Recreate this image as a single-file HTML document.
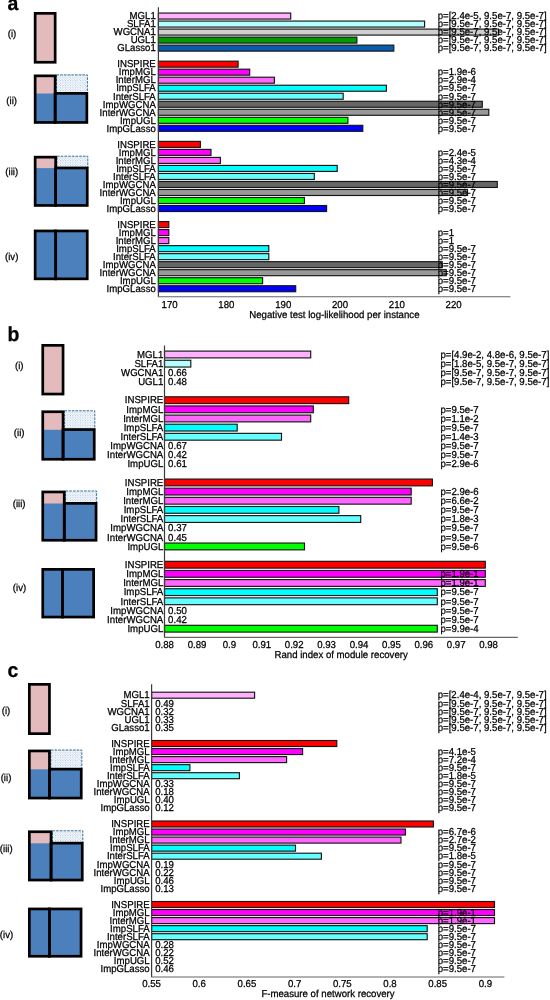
<!DOCTYPE html>
<html><head><meta charset="utf-8"><title>Figure</title>
<style>
html,body{margin:0;padding:0;background:#fff;}
body{width:550px;height:1000px;overflow:hidden;}
svg{display:block;will-change:transform;font-family:"Liberation Sans", sans-serif;fill:#000;}
svg text{font-size:9.9px;fill:#000;stroke:#000;stroke-width:0.25px;text-rendering:geometricPrecision;}
</style></head><body>
<svg width="550" height="1000" viewBox="0 0 550 1000">
<rect width="550" height="1000" fill="#fff" stroke="none"/>
<defs><pattern id="dots" width="2.5" height="2.5" patternUnits="userSpaceOnUse"><rect width="2.5" height="2.5" fill="#fff"/><circle cx="0.6" cy="0.6" r="0.45" fill="#4a80be"/><circle cx="1.85" cy="1.85" r="0.45" fill="#8fb0da"/></pattern></defs>
<rect x="35.15" y="13.35" width="20.00" height="48.90" fill="#e4bbbd" stroke="#000" stroke-width="2.7"/>
<rect x="56.50" y="74.90" width="30.90" height="18.50" fill="url(#dots)" stroke="#3c6e96" stroke-width="1" stroke-dasharray="2.6 1.1"/>
<rect x="34.80" y="93.00" width="52.40" height="29.80" fill="#4b80bd"/>
<rect x="34.80" y="75.50" width="20.70" height="18.00" fill="#e4bbbd"/>
<rect x="35.15" y="75.85" width="20.00" height="46.60" fill="none" stroke="#000" stroke-width="2.7"/>
<rect x="55.15" y="93.35" width="31.70" height="29.10" fill="none" stroke="#000" stroke-width="2.7"/>
<rect x="57.00" y="156.20" width="30.80" height="11.80" fill="url(#dots)" stroke="#3c6e96" stroke-width="1" stroke-dasharray="2.6 1.1"/>
<rect x="34.80" y="167.60" width="52.80" height="38.20" fill="#4b80bd"/>
<rect x="34.80" y="156.80" width="21.20" height="11.30" fill="#e4bbbd"/>
<rect x="35.15" y="157.15" width="20.50" height="48.30" fill="none" stroke="#000" stroke-width="2.7"/>
<rect x="55.65" y="167.95" width="31.60" height="37.50" fill="none" stroke="#000" stroke-width="2.7"/>
<rect x="35.15" y="230.95" width="52.10" height="47.90" fill="#4b80bd" stroke="#000" stroke-width="2.7"/>
<path d="M55.60 229.60V280.20" stroke="#000" stroke-width="2.9000000000000004"/>
<rect x="42.75" y="345.35" width="20.30" height="48.70" fill="#e4bbbd" stroke="#000" stroke-width="2.7"/>
<rect x="64.40" y="410.80" width="30.40" height="18.80" fill="url(#dots)" stroke="#3c6e96" stroke-width="1" stroke-dasharray="2.6 1.1"/>
<rect x="42.40" y="429.20" width="52.20" height="30.40" fill="#4b80bd"/>
<rect x="42.40" y="411.40" width="21.00" height="18.30" fill="#e4bbbd"/>
<rect x="42.75" y="411.75" width="20.30" height="47.50" fill="none" stroke="#000" stroke-width="2.7"/>
<rect x="63.05" y="429.55" width="31.20" height="29.70" fill="none" stroke="#000" stroke-width="2.7"/>
<rect x="65.60" y="491.00" width="31.00" height="12.40" fill="url(#dots)" stroke="#3c6e96" stroke-width="1" stroke-dasharray="2.6 1.1"/>
<rect x="42.40" y="503.00" width="54.00" height="37.60" fill="#4b80bd"/>
<rect x="42.40" y="491.60" width="22.20" height="11.90" fill="#e4bbbd"/>
<rect x="42.75" y="491.95" width="21.50" height="48.30" fill="none" stroke="#000" stroke-width="2.7"/>
<rect x="64.25" y="503.35" width="31.80" height="36.90" fill="none" stroke="#000" stroke-width="2.7"/>
<rect x="42.75" y="569.35" width="50.90" height="47.70" fill="#4b80bd" stroke="#000" stroke-width="2.7"/>
<path d="M62.50 568.00V618.40" stroke="#000" stroke-width="2.9000000000000004"/>
<rect x="29.35" y="684.35" width="20.10" height="49.30" fill="#e4bbbd" stroke="#000" stroke-width="2.7"/>
<rect x="50.80" y="750.00" width="31.00" height="19.20" fill="url(#dots)" stroke="#3c6e96" stroke-width="1" stroke-dasharray="2.6 1.1"/>
<rect x="29.00" y="768.80" width="52.60" height="29.60" fill="#4b80bd"/>
<rect x="29.00" y="750.60" width="20.80" height="18.70" fill="#e4bbbd"/>
<rect x="29.35" y="750.95" width="20.10" height="47.10" fill="none" stroke="#000" stroke-width="2.7"/>
<rect x="49.45" y="769.15" width="31.80" height="28.90" fill="none" stroke="#000" stroke-width="2.7"/>
<rect x="52.40" y="830.80" width="30.40" height="12.40" fill="url(#dots)" stroke="#3c6e96" stroke-width="1" stroke-dasharray="2.6 1.1"/>
<rect x="29.00" y="842.80" width="53.60" height="37.60" fill="#4b80bd"/>
<rect x="29.00" y="831.40" width="22.40" height="11.90" fill="#e4bbbd"/>
<rect x="29.35" y="831.75" width="21.70" height="48.30" fill="none" stroke="#000" stroke-width="2.7"/>
<rect x="51.05" y="843.15" width="31.20" height="36.90" fill="none" stroke="#000" stroke-width="2.7"/>
<rect x="29.35" y="908.95" width="51.70" height="47.30" fill="#4b80bd" stroke="#000" stroke-width="2.7"/>
<path d="M49.50 907.60V957.60" stroke="#000" stroke-width="2.9000000000000004"/>
<rect x="158.40" y="13.05" width="132.30" height="6.00" fill="#ffb0ff" stroke="#151515" stroke-width="1.15"/>
<rect x="158.40" y="21.07" width="266.20" height="6.00" fill="#b3ffff" stroke="#151515" stroke-width="1.15"/>
<rect x="158.40" y="29.09" width="340.20" height="6.00" fill="#cfcfcf" stroke="#151515" stroke-width="1.15"/>
<rect x="158.40" y="37.11" width="198.50" height="6.00" fill="#009a00" stroke="#151515" stroke-width="1.15"/>
<rect x="158.40" y="45.13" width="235.40" height="6.00" fill="#0a5cad" stroke="#151515" stroke-width="1.15"/>
<rect x="158.40" y="61.17" width="79.70" height="6.00" fill="#ff0000" stroke="#151515" stroke-width="1.15"/>
<rect x="158.40" y="69.19" width="91.30" height="6.00" fill="#ff00ff" stroke="#151515" stroke-width="1.15"/>
<rect x="158.40" y="77.21" width="116.00" height="6.00" fill="#ff66ff" stroke="#151515" stroke-width="1.15"/>
<rect x="158.40" y="85.23" width="228.00" height="6.00" fill="#00ffff" stroke="#151515" stroke-width="1.15"/>
<rect x="158.40" y="93.25" width="184.80" height="6.00" fill="#66ffff" stroke="#151515" stroke-width="1.15"/>
<rect x="158.40" y="101.27" width="323.90" height="6.00" fill="#666666" stroke="#151515" stroke-width="1.15"/>
<rect x="158.40" y="109.29" width="330.40" height="6.00" fill="#999999" stroke="#151515" stroke-width="1.15"/>
<rect x="158.40" y="117.31" width="189.50" height="6.00" fill="#00ff00" stroke="#151515" stroke-width="1.15"/>
<rect x="158.40" y="125.33" width="204.40" height="6.00" fill="#0000ff" stroke="#151515" stroke-width="1.15"/>
<rect x="158.40" y="141.37" width="42.00" height="6.00" fill="#ff0000" stroke="#151515" stroke-width="1.15"/>
<rect x="158.40" y="149.39" width="52.60" height="6.00" fill="#ff00ff" stroke="#151515" stroke-width="1.15"/>
<rect x="158.40" y="157.41" width="62.00" height="6.00" fill="#ff66ff" stroke="#151515" stroke-width="1.15"/>
<rect x="158.40" y="165.43" width="178.80" height="6.00" fill="#00ffff" stroke="#151515" stroke-width="1.15"/>
<rect x="158.40" y="173.45" width="155.90" height="6.00" fill="#66ffff" stroke="#151515" stroke-width="1.15"/>
<rect x="158.40" y="181.47" width="338.90" height="6.00" fill="#666666" stroke="#151515" stroke-width="1.15"/>
<rect x="158.40" y="189.49" width="309.10" height="6.00" fill="#999999" stroke="#151515" stroke-width="1.15"/>
<rect x="158.40" y="197.51" width="146.00" height="6.00" fill="#00ff00" stroke="#151515" stroke-width="1.15"/>
<rect x="158.40" y="205.53" width="168.20" height="6.00" fill="#0000ff" stroke="#151515" stroke-width="1.15"/>
<rect x="158.40" y="221.57" width="10.40" height="6.00" fill="#ff0000" stroke="#151515" stroke-width="1.15"/>
<rect x="158.40" y="229.59" width="10.40" height="6.00" fill="#ff00ff" stroke="#151515" stroke-width="1.15"/>
<rect x="158.40" y="237.61" width="10.40" height="6.00" fill="#ff66ff" stroke="#151515" stroke-width="1.15"/>
<rect x="158.40" y="245.63" width="110.40" height="6.00" fill="#00ffff" stroke="#151515" stroke-width="1.15"/>
<rect x="158.40" y="253.65" width="110.40" height="6.00" fill="#66ffff" stroke="#151515" stroke-width="1.15"/>
<rect x="158.40" y="261.67" width="283.80" height="6.00" fill="#666666" stroke="#151515" stroke-width="1.15"/>
<rect x="158.40" y="269.69" width="287.90" height="6.00" fill="#999999" stroke="#151515" stroke-width="1.15"/>
<rect x="158.40" y="277.71" width="104.20" height="6.00" fill="#00ff00" stroke="#151515" stroke-width="1.15"/>
<rect x="158.40" y="285.73" width="137.30" height="6.00" fill="#0000ff" stroke="#151515" stroke-width="1.15"/>
<path d="M158.40 7.30V296.80" stroke="#3a3a3a" stroke-width="1.2" fill="none"/>
<path d="M157.90 296.80H510.40" stroke="#666" stroke-width="1.1" fill="none"/>
<text transform="translate(155.80 19.30) scale(0.975 1.015)" text-anchor="end">MGL1</text>
<text transform="translate(437.70 19.30) scale(0.975 1.015)">p=[2.4e-5, 9.5e-7, 9.5e-7]</text>
<text transform="translate(155.80 27.32) scale(0.975 1.015)" text-anchor="end">SLFA1</text>
<text transform="translate(437.70 27.32) scale(0.975 1.015)">p=[9.5e-7, 9.5e-7, 9.5e-7]</text>
<text transform="translate(155.80 35.34) scale(0.975 1.015)" text-anchor="end">WGCNA1</text>
<text transform="translate(437.70 35.34) scale(0.975 1.015)">p=[9.5e-7, 9.5e-7, 9.5e-7]</text>
<text transform="translate(155.80 43.36) scale(0.975 1.015)" text-anchor="end">UGL1</text>
<text transform="translate(437.70 43.36) scale(0.975 1.015)">p=[9.5e-7, 9.5e-7, 9.5e-7]</text>
<text transform="translate(155.80 51.38) scale(0.975 1.015)" text-anchor="end">GLasso1</text>
<text transform="translate(437.70 51.38) scale(0.975 1.015)">p=[9.5e-7, 9.5e-7, 9.5e-7]</text>
<text transform="translate(155.80 67.42) scale(0.975 1.015)" text-anchor="end">INSPIRE</text>
<text transform="translate(155.80 75.44) scale(0.975 1.015)" text-anchor="end">ImpMGL</text>
<text transform="translate(437.70 75.44) scale(0.975 1.015)">p=1.9e-6</text>
<text transform="translate(155.80 83.46) scale(0.975 1.015)" text-anchor="end">InterMGL</text>
<text transform="translate(437.70 83.46) scale(0.975 1.015)">p=2.9e-4</text>
<text transform="translate(155.80 91.48) scale(0.975 1.015)" text-anchor="end">ImpSLFA</text>
<text transform="translate(437.70 91.48) scale(0.975 1.015)">p=9.5e-7</text>
<text transform="translate(155.80 99.50) scale(0.975 1.015)" text-anchor="end">InterSLFA</text>
<text transform="translate(437.70 99.50) scale(0.975 1.015)">p=9.5e-7</text>
<text transform="translate(155.80 107.52) scale(0.975 1.015)" text-anchor="end">ImpWGCNA</text>
<text transform="translate(437.70 107.52) scale(0.975 1.015)">p=9.5e-7</text>
<text transform="translate(155.80 115.54) scale(0.975 1.015)" text-anchor="end">InterWGCNA</text>
<text transform="translate(437.70 115.54) scale(0.975 1.015)">p=9.5e-7</text>
<text transform="translate(155.80 123.56) scale(0.975 1.015)" text-anchor="end">ImpUGL</text>
<text transform="translate(437.70 123.56) scale(0.975 1.015)">p=9.5e-7</text>
<text transform="translate(155.80 131.58) scale(0.975 1.015)" text-anchor="end">ImpGLasso</text>
<text transform="translate(437.70 131.58) scale(0.975 1.015)">p=9.5e-7</text>
<text transform="translate(155.80 147.62) scale(0.975 1.015)" text-anchor="end">INSPIRE</text>
<text transform="translate(155.80 155.64) scale(0.975 1.015)" text-anchor="end">ImpMGL</text>
<text transform="translate(437.70 155.64) scale(0.975 1.015)">p=2.4e-5</text>
<text transform="translate(155.80 163.66) scale(0.975 1.015)" text-anchor="end">InterMGL</text>
<text transform="translate(437.70 163.66) scale(0.975 1.015)">p=4.3e-4</text>
<text transform="translate(155.80 171.68) scale(0.975 1.015)" text-anchor="end">ImpSLFA</text>
<text transform="translate(437.70 171.68) scale(0.975 1.015)">p=9.5e-7</text>
<text transform="translate(155.80 179.70) scale(0.975 1.015)" text-anchor="end">InterSLFA</text>
<text transform="translate(437.70 179.70) scale(0.975 1.015)">p=9.5e-7</text>
<text transform="translate(155.80 187.72) scale(0.975 1.015)" text-anchor="end">ImpWGCNA</text>
<text transform="translate(437.70 187.72) scale(0.975 1.015)">p=9.5e-7</text>
<text transform="translate(155.80 195.74) scale(0.975 1.015)" text-anchor="end">InterWGCNA</text>
<text transform="translate(437.70 195.74) scale(0.975 1.015)">p=9.5e-7</text>
<text transform="translate(155.80 203.76) scale(0.975 1.015)" text-anchor="end">ImpUGL</text>
<text transform="translate(437.70 203.76) scale(0.975 1.015)">p=9.5e-7</text>
<text transform="translate(155.80 211.78) scale(0.975 1.015)" text-anchor="end">ImpGLasso</text>
<text transform="translate(437.70 211.78) scale(0.975 1.015)">p=9.5e-7</text>
<text transform="translate(155.80 227.82) scale(0.975 1.015)" text-anchor="end">INSPIRE</text>
<text transform="translate(155.80 235.84) scale(0.975 1.015)" text-anchor="end">ImpMGL</text>
<text transform="translate(437.70 235.84) scale(0.975 1.015)">p=1</text>
<text transform="translate(155.80 243.86) scale(0.975 1.015)" text-anchor="end">InterMGL</text>
<text transform="translate(437.70 243.86) scale(0.975 1.015)">p=1</text>
<text transform="translate(155.80 251.88) scale(0.975 1.015)" text-anchor="end">ImpSLFA</text>
<text transform="translate(437.70 251.88) scale(0.975 1.015)">p=9.5e-7</text>
<text transform="translate(155.80 259.90) scale(0.975 1.015)" text-anchor="end">InterSLFA</text>
<text transform="translate(437.70 259.90) scale(0.975 1.015)">p=9.5e-7</text>
<text transform="translate(155.80 267.92) scale(0.975 1.015)" text-anchor="end">ImpWGCNA</text>
<text transform="translate(437.70 267.92) scale(0.975 1.015)">p=9.5e-7</text>
<text transform="translate(155.80 275.94) scale(0.975 1.015)" text-anchor="end">InterWGCNA</text>
<text transform="translate(437.70 275.94) scale(0.975 1.015)">p=9.5e-7</text>
<text transform="translate(155.80 283.96) scale(0.975 1.015)" text-anchor="end">ImpUGL</text>
<text transform="translate(437.70 283.96) scale(0.975 1.015)">p=9.5e-7</text>
<text transform="translate(155.80 291.98) scale(0.975 1.015)" text-anchor="end">ImpGLasso</text>
<text transform="translate(437.70 291.98) scale(0.975 1.015)">p=9.5e-7</text>
<text transform="translate(169.60 307.60) scale(0.975 1.015)" text-anchor="middle">170</text>
<text transform="translate(226.40 307.60) scale(0.975 1.015)" text-anchor="middle">180</text>
<text transform="translate(283.20 307.60) scale(0.975 1.015)" text-anchor="middle">190</text>
<text transform="translate(340.00 307.60) scale(0.975 1.015)" text-anchor="middle">200</text>
<text transform="translate(396.80 307.60) scale(0.975 1.015)" text-anchor="middle">210</text>
<text transform="translate(453.60 307.60) scale(0.975 1.015)" text-anchor="middle">220</text>
<text transform="translate(334.40 317.70) scale(0.975 1.015)" text-anchor="middle">Negative test log-likelihood per instance</text>
<rect x="164.50" y="351.10" width="146.20" height="6.80" fill="#ffb0ff" stroke="#151515" stroke-width="1.15"/>
<rect x="164.50" y="360.24" width="26.30" height="6.80" fill="#b3ffff" stroke="#151515" stroke-width="1.15"/>
<rect x="164.50" y="396.80" width="184.20" height="6.80" fill="#ff0000" stroke="#151515" stroke-width="1.15"/>
<rect x="164.50" y="405.94" width="148.80" height="6.80" fill="#ff00ff" stroke="#151515" stroke-width="1.15"/>
<rect x="164.50" y="415.08" width="146.20" height="6.80" fill="#ff66ff" stroke="#151515" stroke-width="1.15"/>
<rect x="164.50" y="424.22" width="72.70" height="6.80" fill="#00ffff" stroke="#151515" stroke-width="1.15"/>
<rect x="164.50" y="433.36" width="117.00" height="6.80" fill="#66ffff" stroke="#151515" stroke-width="1.15"/>
<rect x="164.50" y="479.06" width="267.90" height="6.80" fill="#ff0000" stroke="#151515" stroke-width="1.15"/>
<rect x="164.50" y="488.20" width="246.70" height="6.80" fill="#ff00ff" stroke="#151515" stroke-width="1.15"/>
<rect x="164.50" y="497.34" width="246.70" height="6.80" fill="#ff66ff" stroke="#151515" stroke-width="1.15"/>
<rect x="164.50" y="506.48" width="174.40" height="6.80" fill="#00ffff" stroke="#151515" stroke-width="1.15"/>
<rect x="164.50" y="515.62" width="196.20" height="6.80" fill="#66ffff" stroke="#151515" stroke-width="1.15"/>
<rect x="164.50" y="543.04" width="140.00" height="6.80" fill="#00ff00" stroke="#151515" stroke-width="1.15"/>
<rect x="164.50" y="561.32" width="320.80" height="6.80" fill="#ff0000" stroke="#151515" stroke-width="1.15"/>
<rect x="164.50" y="570.46" width="320.80" height="6.80" fill="#ff00ff" stroke="#151515" stroke-width="1.15"/>
<rect x="164.50" y="579.60" width="320.80" height="6.80" fill="#ff66ff" stroke="#151515" stroke-width="1.15"/>
<rect x="164.50" y="588.74" width="272.80" height="6.80" fill="#00ffff" stroke="#151515" stroke-width="1.15"/>
<rect x="164.50" y="597.88" width="272.80" height="6.80" fill="#66ffff" stroke="#151515" stroke-width="1.15"/>
<rect x="164.50" y="625.30" width="272.80" height="6.80" fill="#00ff00" stroke="#151515" stroke-width="1.15"/>
<path d="M164.50 345.50V637.40" stroke="#3a3a3a" stroke-width="1.2" fill="none"/>
<path d="M164.00 637.40H517.80" stroke="#666" stroke-width="1.1" fill="none"/>
<text transform="translate(163.30 357.75) scale(0.975 1.015)" text-anchor="end">MGL1</text>
<text transform="translate(440.40 357.75) scale(0.975 1.015)">p=[4.9e-2, 4.8e-6, 9.5e-7]</text>
<text transform="translate(163.30 366.89) scale(0.975 1.015)" text-anchor="end">SLFA1</text>
<text transform="translate(440.40 366.89) scale(0.975 1.015)">p=[1.8e-5, 9.5e-7, 9.5e-7]</text>
<text transform="translate(163.30 376.03) scale(0.975 1.015)" text-anchor="end">WGCNA1</text>
<text transform="translate(168.10 376.03) scale(0.975 1.015)">0.66</text>
<text transform="translate(440.40 376.03) scale(0.975 1.015)">p=[9.5e-7, 9.5e-7, 9.5e-7]</text>
<text transform="translate(163.30 385.17) scale(0.975 1.015)" text-anchor="end">UGL1</text>
<text transform="translate(168.10 385.17) scale(0.975 1.015)">0.48</text>
<text transform="translate(440.40 385.17) scale(0.975 1.015)">p=[9.5e-7, 9.5e-7, 9.5e-7]</text>
<text transform="translate(163.30 403.45) scale(0.975 1.015)" text-anchor="end">INSPIRE</text>
<text transform="translate(163.30 412.59) scale(0.975 1.015)" text-anchor="end">ImpMGL</text>
<text transform="translate(440.40 412.59) scale(0.975 1.015)">p=9.5e-7</text>
<text transform="translate(163.30 421.73) scale(0.975 1.015)" text-anchor="end">InterMGL</text>
<text transform="translate(440.40 421.73) scale(0.975 1.015)">p=1.1e-2</text>
<text transform="translate(163.30 430.87) scale(0.975 1.015)" text-anchor="end">ImpSLFA</text>
<text transform="translate(440.40 430.87) scale(0.975 1.015)">p=9.5e-7</text>
<text transform="translate(163.30 440.01) scale(0.975 1.015)" text-anchor="end">InterSLFA</text>
<text transform="translate(440.40 440.01) scale(0.975 1.015)">p=1.4e-3</text>
<text transform="translate(163.30 449.15) scale(0.975 1.015)" text-anchor="end">ImpWGCNA</text>
<text transform="translate(168.10 449.15) scale(0.975 1.015)">0.67</text>
<text transform="translate(440.40 449.15) scale(0.975 1.015)">p=9.5e-7</text>
<text transform="translate(163.30 458.29) scale(0.975 1.015)" text-anchor="end">InterWGCNA</text>
<text transform="translate(168.10 458.29) scale(0.975 1.015)">0.42</text>
<text transform="translate(440.40 458.29) scale(0.975 1.015)">p=9.5e-7</text>
<text transform="translate(163.30 467.43) scale(0.975 1.015)" text-anchor="end">ImpUGL</text>
<text transform="translate(168.10 467.43) scale(0.975 1.015)">0.61</text>
<text transform="translate(440.40 467.43) scale(0.975 1.015)">p=2.9e-6</text>
<text transform="translate(163.30 485.71) scale(0.975 1.015)" text-anchor="end">INSPIRE</text>
<text transform="translate(163.30 494.85) scale(0.975 1.015)" text-anchor="end">ImpMGL</text>
<text transform="translate(440.40 494.85) scale(0.975 1.015)">p=2.9e-6</text>
<text transform="translate(163.30 503.99) scale(0.975 1.015)" text-anchor="end">InterMGL</text>
<text transform="translate(440.40 503.99) scale(0.975 1.015)">p=6.6e-2</text>
<text transform="translate(163.30 513.13) scale(0.975 1.015)" text-anchor="end">ImpSLFA</text>
<text transform="translate(440.40 513.13) scale(0.975 1.015)">p=9.5e-7</text>
<text transform="translate(163.30 522.27) scale(0.975 1.015)" text-anchor="end">InterSLFA</text>
<text transform="translate(440.40 522.27) scale(0.975 1.015)">p=1.8e-3</text>
<text transform="translate(163.30 531.41) scale(0.975 1.015)" text-anchor="end">ImpWGCNA</text>
<text transform="translate(168.10 531.41) scale(0.975 1.015)">0.37</text>
<text transform="translate(440.40 531.41) scale(0.975 1.015)">p=9.5e-7</text>
<text transform="translate(163.30 540.55) scale(0.975 1.015)" text-anchor="end">InterWGCNA</text>
<text transform="translate(168.10 540.55) scale(0.975 1.015)">0.45</text>
<text transform="translate(440.40 540.55) scale(0.975 1.015)">p=9.5e-7</text>
<text transform="translate(163.30 549.69) scale(0.975 1.015)" text-anchor="end">ImpUGL</text>
<text transform="translate(440.40 549.69) scale(0.975 1.015)">p=9.5e-6</text>
<text transform="translate(163.30 567.97) scale(0.975 1.015)" text-anchor="end">INSPIRE</text>
<text transform="translate(163.30 577.11) scale(0.975 1.015)" text-anchor="end">ImpMGL</text>
<text transform="translate(440.40 577.11) scale(0.975 1.015)">p=1.9e-1</text>
<text transform="translate(163.30 586.25) scale(0.975 1.015)" text-anchor="end">InterMGL</text>
<text transform="translate(440.40 586.25) scale(0.975 1.015)">p=1.9e-1</text>
<text transform="translate(163.30 595.39) scale(0.975 1.015)" text-anchor="end">ImpSLFA</text>
<text transform="translate(440.40 595.39) scale(0.975 1.015)">p=9.5e-7</text>
<text transform="translate(163.30 604.53) scale(0.975 1.015)" text-anchor="end">InterSLFA</text>
<text transform="translate(440.40 604.53) scale(0.975 1.015)">p=9.5e-7</text>
<text transform="translate(163.30 613.67) scale(0.975 1.015)" text-anchor="end">ImpWGCNA</text>
<text transform="translate(168.10 613.67) scale(0.975 1.015)">0.50</text>
<text transform="translate(440.40 613.67) scale(0.975 1.015)">p=9.5e-7</text>
<text transform="translate(163.30 622.81) scale(0.975 1.015)" text-anchor="end">InterWGCNA</text>
<text transform="translate(168.10 622.81) scale(0.975 1.015)">0.42</text>
<text transform="translate(440.40 622.81) scale(0.975 1.015)">p=9.5e-7</text>
<text transform="translate(163.30 631.95) scale(0.975 1.015)" text-anchor="end">ImpUGL</text>
<text transform="translate(440.40 631.95) scale(0.975 1.015)">p=9.9e-4</text>
<text transform="translate(164.60 648.00) scale(0.975 1.015)" text-anchor="middle">0.88</text>
<text transform="translate(197.00 648.00) scale(0.975 1.015)" text-anchor="middle">0.89</text>
<text transform="translate(229.40 648.00) scale(0.975 1.015)" text-anchor="middle">0.9</text>
<text transform="translate(261.80 648.00) scale(0.975 1.015)" text-anchor="middle">0.91</text>
<text transform="translate(294.20 648.00) scale(0.975 1.015)" text-anchor="middle">0.92</text>
<text transform="translate(326.60 648.00) scale(0.975 1.015)" text-anchor="middle">0.93</text>
<text transform="translate(359.00 648.00) scale(0.975 1.015)" text-anchor="middle">0.94</text>
<text transform="translate(391.40 648.00) scale(0.975 1.015)" text-anchor="middle">0.95</text>
<text transform="translate(423.80 648.00) scale(0.975 1.015)" text-anchor="middle">0.96</text>
<text transform="translate(456.20 648.00) scale(0.975 1.015)" text-anchor="middle">0.97</text>
<text transform="translate(488.60 648.00) scale(0.975 1.015)" text-anchor="middle">0.98</text>
<text transform="translate(341.15 658.20) scale(0.975 1.015)" text-anchor="middle">Rand index of module recovery</text>
<rect x="151.60" y="692.20" width="103.00" height="6.00" fill="#ffb0ff" stroke="#151515" stroke-width="1.15"/>
<rect x="151.60" y="740.50" width="185.20" height="6.00" fill="#ff0000" stroke="#151515" stroke-width="1.15"/>
<rect x="151.60" y="748.55" width="151.00" height="6.00" fill="#ff00ff" stroke="#151515" stroke-width="1.15"/>
<rect x="151.60" y="756.60" width="135.00" height="6.00" fill="#ff66ff" stroke="#151515" stroke-width="1.15"/>
<rect x="151.60" y="764.65" width="38.30" height="6.00" fill="#00ffff" stroke="#151515" stroke-width="1.15"/>
<rect x="151.60" y="772.70" width="87.80" height="6.00" fill="#66ffff" stroke="#151515" stroke-width="1.15"/>
<rect x="151.60" y="821.00" width="281.80" height="6.00" fill="#ff0000" stroke="#151515" stroke-width="1.15"/>
<rect x="151.60" y="829.05" width="253.80" height="6.00" fill="#ff00ff" stroke="#151515" stroke-width="1.15"/>
<rect x="151.60" y="837.10" width="249.40" height="6.00" fill="#ff66ff" stroke="#151515" stroke-width="1.15"/>
<rect x="151.60" y="845.15" width="143.90" height="6.00" fill="#00ffff" stroke="#151515" stroke-width="1.15"/>
<rect x="151.60" y="853.20" width="169.80" height="6.00" fill="#66ffff" stroke="#151515" stroke-width="1.15"/>
<rect x="151.60" y="901.50" width="342.90" height="6.00" fill="#ff0000" stroke="#151515" stroke-width="1.15"/>
<rect x="151.60" y="909.55" width="342.90" height="6.00" fill="#ff00ff" stroke="#151515" stroke-width="1.15"/>
<rect x="151.60" y="917.60" width="342.90" height="6.00" fill="#ff66ff" stroke="#151515" stroke-width="1.15"/>
<rect x="151.60" y="925.65" width="275.60" height="6.00" fill="#00ffff" stroke="#151515" stroke-width="1.15"/>
<rect x="151.60" y="933.70" width="275.60" height="6.00" fill="#66ffff" stroke="#151515" stroke-width="1.15"/>
<path d="M151.60 684.20V977.00" stroke="#3a3a3a" stroke-width="1.2" fill="none"/>
<path d="M151.10 977.00H504.40" stroke="#666" stroke-width="1.1" fill="none"/>
<text transform="translate(149.70 698.45) scale(0.975 1.015)" text-anchor="end">MGL1</text>
<text transform="translate(437.70 698.45) scale(0.975 1.015)">p=[2.4e-4, 9.5e-7, 9.5e-7]</text>
<text transform="translate(149.70 706.50) scale(0.975 1.015)" text-anchor="end">SLFA1</text>
<text transform="translate(155.20 706.50) scale(0.975 1.015)">0.49</text>
<text transform="translate(437.70 706.50) scale(0.975 1.015)">p=[9.5e-7, 9.5e-7, 9.5e-7]</text>
<text transform="translate(149.70 714.55) scale(0.975 1.015)" text-anchor="end">WGCNA1</text>
<text transform="translate(155.20 714.55) scale(0.975 1.015)">0.32</text>
<text transform="translate(437.70 714.55) scale(0.975 1.015)">p=[9.5e-7, 9.5e-7, 9.5e-7]</text>
<text transform="translate(149.70 722.60) scale(0.975 1.015)" text-anchor="end">UGL1</text>
<text transform="translate(155.20 722.60) scale(0.975 1.015)">0.33</text>
<text transform="translate(437.70 722.60) scale(0.975 1.015)">p=[9.5e-7, 9.5e-7, 9.5e-7]</text>
<text transform="translate(149.70 730.65) scale(0.975 1.015)" text-anchor="end">GLasso1</text>
<text transform="translate(155.20 730.65) scale(0.975 1.015)">0.35</text>
<text transform="translate(437.70 730.65) scale(0.975 1.015)">p=[9.5e-7, 9.5e-7, 9.5e-7]</text>
<text transform="translate(149.70 746.75) scale(0.975 1.015)" text-anchor="end">INSPIRE</text>
<text transform="translate(149.70 754.80) scale(0.975 1.015)" text-anchor="end">ImpMGL</text>
<text transform="translate(437.70 754.80) scale(0.975 1.015)">p=4.1e-5</text>
<text transform="translate(149.70 762.85) scale(0.975 1.015)" text-anchor="end">InterMGL</text>
<text transform="translate(437.70 762.85) scale(0.975 1.015)">p=7.2e-4</text>
<text transform="translate(149.70 770.90) scale(0.975 1.015)" text-anchor="end">ImpSLFA</text>
<text transform="translate(437.70 770.90) scale(0.975 1.015)">p=9.5e-7</text>
<text transform="translate(149.70 778.95) scale(0.975 1.015)" text-anchor="end">InterSLFA</text>
<text transform="translate(437.70 778.95) scale(0.975 1.015)">p=1.8e-5</text>
<text transform="translate(149.70 787.00) scale(0.975 1.015)" text-anchor="end">ImpWGCNA</text>
<text transform="translate(155.20 787.00) scale(0.975 1.015)">0.33</text>
<text transform="translate(437.70 787.00) scale(0.975 1.015)">p=9.5e-7</text>
<text transform="translate(149.70 795.05) scale(0.975 1.015)" text-anchor="end">InterWGCNA</text>
<text transform="translate(155.20 795.05) scale(0.975 1.015)">0.18</text>
<text transform="translate(437.70 795.05) scale(0.975 1.015)">p=9.5e-7</text>
<text transform="translate(149.70 803.10) scale(0.975 1.015)" text-anchor="end">ImpUGL</text>
<text transform="translate(155.20 803.10) scale(0.975 1.015)">0.40</text>
<text transform="translate(437.70 803.10) scale(0.975 1.015)">p=9.5e-7</text>
<text transform="translate(149.70 811.15) scale(0.975 1.015)" text-anchor="end">ImpGLasso</text>
<text transform="translate(155.20 811.15) scale(0.975 1.015)">0.12</text>
<text transform="translate(437.70 811.15) scale(0.975 1.015)">p=9.5e-7</text>
<text transform="translate(149.70 827.25) scale(0.975 1.015)" text-anchor="end">INSPIRE</text>
<text transform="translate(149.70 835.30) scale(0.975 1.015)" text-anchor="end">ImpMGL</text>
<text transform="translate(437.70 835.30) scale(0.975 1.015)">p=6.7e-6</text>
<text transform="translate(149.70 843.35) scale(0.975 1.015)" text-anchor="end">InterMGL</text>
<text transform="translate(437.70 843.35) scale(0.975 1.015)">p=2.7e-2</text>
<text transform="translate(149.70 851.40) scale(0.975 1.015)" text-anchor="end">ImpSLFA</text>
<text transform="translate(437.70 851.40) scale(0.975 1.015)">p=9.5e-7</text>
<text transform="translate(149.70 859.45) scale(0.975 1.015)" text-anchor="end">InterSLFA</text>
<text transform="translate(437.70 859.45) scale(0.975 1.015)">p=1.8e-5</text>
<text transform="translate(149.70 867.50) scale(0.975 1.015)" text-anchor="end">ImpWGCNA</text>
<text transform="translate(155.20 867.50) scale(0.975 1.015)">0.19</text>
<text transform="translate(437.70 867.50) scale(0.975 1.015)">p=9.5e-7</text>
<text transform="translate(149.70 875.55) scale(0.975 1.015)" text-anchor="end">InterWGCNA</text>
<text transform="translate(155.20 875.55) scale(0.975 1.015)">0.22</text>
<text transform="translate(437.70 875.55) scale(0.975 1.015)">p=9.5e-7</text>
<text transform="translate(149.70 883.60) scale(0.975 1.015)" text-anchor="end">ImpUGL</text>
<text transform="translate(155.20 883.60) scale(0.975 1.015)">0.46</text>
<text transform="translate(437.70 883.60) scale(0.975 1.015)">p=9.5e-7</text>
<text transform="translate(149.70 891.65) scale(0.975 1.015)" text-anchor="end">ImpGLasso</text>
<text transform="translate(155.20 891.65) scale(0.975 1.015)">0.13</text>
<text transform="translate(437.70 891.65) scale(0.975 1.015)">p=9.5e-7</text>
<text transform="translate(149.70 907.75) scale(0.975 1.015)" text-anchor="end">INSPIRE</text>
<text transform="translate(149.70 915.80) scale(0.975 1.015)" text-anchor="end">ImpMGL</text>
<text transform="translate(437.70 915.80) scale(0.975 1.015)">p=1.9e-1</text>
<text transform="translate(149.70 923.85) scale(0.975 1.015)" text-anchor="end">InterMGL</text>
<text transform="translate(437.70 923.85) scale(0.975 1.015)">p=1.9e-1</text>
<text transform="translate(149.70 931.90) scale(0.975 1.015)" text-anchor="end">ImpSLFA</text>
<text transform="translate(437.70 931.90) scale(0.975 1.015)">p=9.5e-7</text>
<text transform="translate(149.70 939.95) scale(0.975 1.015)" text-anchor="end">InterSLFA</text>
<text transform="translate(437.70 939.95) scale(0.975 1.015)">p=9.5e-7</text>
<text transform="translate(149.70 948.00) scale(0.975 1.015)" text-anchor="end">ImpWGCNA</text>
<text transform="translate(155.20 948.00) scale(0.975 1.015)">0.28</text>
<text transform="translate(437.70 948.00) scale(0.975 1.015)">p=9.5e-7</text>
<text transform="translate(149.70 956.05) scale(0.975 1.015)" text-anchor="end">InterWGCNA</text>
<text transform="translate(155.20 956.05) scale(0.975 1.015)">0.22</text>
<text transform="translate(437.70 956.05) scale(0.975 1.015)">p=9.5e-7</text>
<text transform="translate(149.70 964.10) scale(0.975 1.015)" text-anchor="end">ImpUGL</text>
<text transform="translate(155.20 964.10) scale(0.975 1.015)">0.52</text>
<text transform="translate(437.70 964.10) scale(0.975 1.015)">p=9.5e-7</text>
<text transform="translate(149.70 972.15) scale(0.975 1.015)" text-anchor="end">ImpGLasso</text>
<text transform="translate(155.20 972.15) scale(0.975 1.015)">0.46</text>
<text transform="translate(437.70 972.15) scale(0.975 1.015)">p=9.5e-7</text>
<text transform="translate(151.50 986.80) scale(0.975 1.015)" text-anchor="middle">0.55</text>
<text transform="translate(199.20 986.80) scale(0.975 1.015)" text-anchor="middle">0.6</text>
<text transform="translate(246.90 986.80) scale(0.975 1.015)" text-anchor="middle">0.65</text>
<text transform="translate(294.60 986.80) scale(0.975 1.015)" text-anchor="middle">0.7</text>
<text transform="translate(342.30 986.80) scale(0.975 1.015)" text-anchor="middle">0.75</text>
<text transform="translate(390.00 986.80) scale(0.975 1.015)" text-anchor="middle">0.8</text>
<text transform="translate(437.70 986.80) scale(0.975 1.015)" text-anchor="middle">0.85</text>
<text transform="translate(485.40 986.80) scale(0.975 1.015)" text-anchor="middle">0.9</text>
<text transform="translate(328.00 996.90) scale(0.975 1.015)" text-anchor="middle">F-measure of network recovery</text>
<text transform="translate(7.40 10.00) scale(0.975 1.015)" style="font-size:20px" font-weight="bold">a</text>
<text transform="translate(7.40 341.00) scale(0.975 1.015)" style="font-size:20px" font-weight="bold">b</text>
<text transform="translate(7.40 677.30) scale(0.975 1.015)" style="font-size:20px" font-weight="bold">c</text>
<text transform="translate(12.00 37.10) scale(0.975 1.015)" text-anchor="middle">(i)</text>
<text transform="translate(11.70 104.00) scale(0.975 1.015)" text-anchor="middle">(ii)</text>
<text transform="translate(11.70 175.10) scale(0.975 1.015)" text-anchor="middle">(iii)</text>
<text transform="translate(11.70 259.90) scale(0.975 1.015)" text-anchor="middle">(iv)</text>
<text transform="translate(19.20 369.30) scale(0.975 1.015)" text-anchor="middle">(i)</text>
<text transform="translate(19.20 436.30) scale(0.975 1.015)" text-anchor="middle">(ii)</text>
<text transform="translate(19.10 506.90) scale(0.975 1.015)" text-anchor="middle">(iii)</text>
<text transform="translate(19.50 591.30) scale(0.975 1.015)" text-anchor="middle">(iv)</text>
<text transform="translate(6.00 714.30) scale(0.975 1.015)" text-anchor="middle">(i)</text>
<text transform="translate(6.00 781.30) scale(0.975 1.015)" text-anchor="middle">(ii)</text>
<text transform="translate(6.20 852.30) scale(0.975 1.015)" text-anchor="middle">(iii)</text>
<text transform="translate(6.50 937.70) scale(0.975 1.015)" text-anchor="middle">(iv)</text>
</svg>
</body></html>
